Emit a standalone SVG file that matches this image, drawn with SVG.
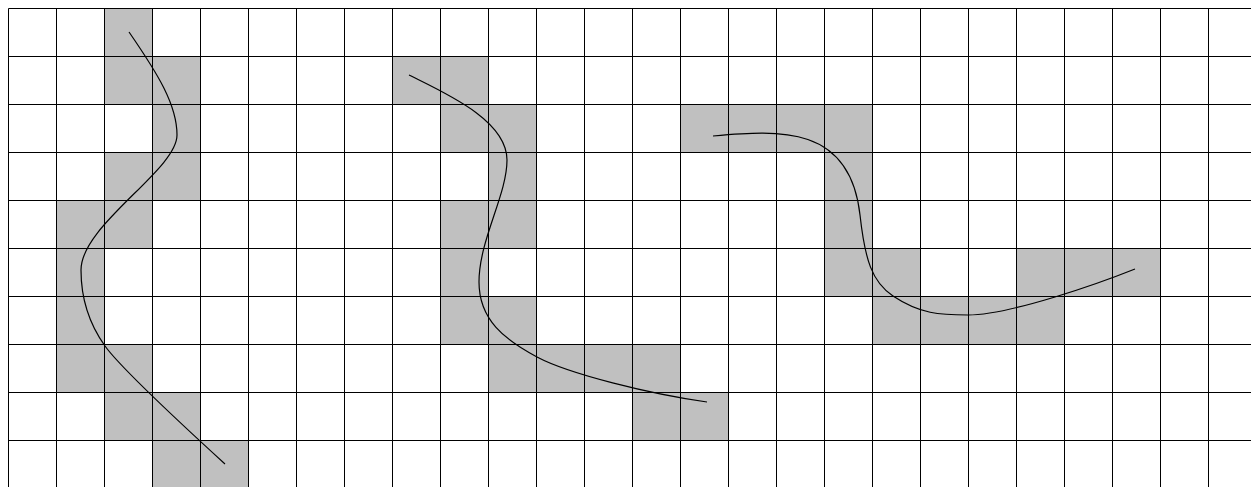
<svg xmlns="http://www.w3.org/2000/svg" width="1251" height="487" viewBox="0 0 1251 487">
<style>
.cell{fill:#c0c0c0;stroke:none}
.grid{stroke:#000;stroke-width:1;fill:none}
.curve{stroke:#000;stroke-width:1.2;fill:none}
</style>
<rect x="0" y="0" width="1251" height="487" fill="#fff"/>
<defs>
<rect id="c" class="cell" width="48" height="48"/>
</defs>
<g id="cells1">
<use href="#c" x="104.5" y="8.5"/>
<use href="#c" x="104.5" y="56.5"/><use href="#c" x="152.5" y="56.5"/>
<use href="#c" x="152.5" y="104.5"/>
<use href="#c" x="104.5" y="152.5"/><use href="#c" x="152.5" y="152.5"/>
<use href="#c" x="56.5" y="200.5"/><use href="#c" x="104.5" y="200.5"/>
<use href="#c" x="56.5" y="248.5"/>
<use href="#c" x="56.5" y="296.5"/>
<use href="#c" x="56.5" y="344.5"/><use href="#c" x="104.5" y="344.5"/>
<use href="#c" x="104.5" y="392.5"/><use href="#c" x="152.5" y="392.5"/>
<use href="#c" x="152.5" y="440.5"/><use href="#c" x="200.5" y="440.5"/>
</g>
<g id="cells2">
<use href="#c" x="392.5" y="56.5"/><use href="#c" x="440.5" y="56.5"/>
<use href="#c" x="440.5" y="104.5"/><use href="#c" x="488.5" y="104.5"/>
<use href="#c" x="488.5" y="152.5"/>
<use href="#c" x="440.5" y="200.5"/><use href="#c" x="488.5" y="200.5"/>
<use href="#c" x="440.5" y="248.5"/>
<use href="#c" x="440.5" y="296.5"/><use href="#c" x="488.5" y="296.5"/>
<use href="#c" x="488.5" y="344.5"/><use href="#c" x="536.5" y="344.5"/><use href="#c" x="584.5" y="344.5"/><use href="#c" x="632.5" y="344.5"/>
<use href="#c" x="632.5" y="392.5"/><use href="#c" x="680.5" y="392.5"/>
</g>
<g id="cells3">
<use href="#c" x="680.5" y="104.5"/><use href="#c" x="728.5" y="104.5"/><use href="#c" x="776.5" y="104.5"/><use href="#c" x="824.5" y="104.5"/>
<use href="#c" x="824.5" y="152.5"/>
<use href="#c" x="824.5" y="200.5"/>
<use href="#c" x="824.5" y="248.5"/><use href="#c" x="872.5" y="248.5"/>
<use href="#c" x="1016.5" y="248.5"/><use href="#c" x="1064.5" y="248.5"/><use href="#c" x="1112.5" y="248.5"/>
<use href="#c" x="872.5" y="296.5"/><use href="#c" x="920.5" y="296.5"/><use href="#c" x="968.5" y="296.5"/><use href="#c" x="1016.5" y="296.5"/>
</g>
<g id="grid" class="grid">
<path d="M8.5,8.5V487M56.5,8.5V487M104.5,8.5V487M152.5,8.5V487M200.5,8.5V487M248.5,8.5V487M296.5,8.5V487M344.5,8.5V487M392.5,8.5V487M440.5,8.5V487M488.5,8.5V487M536.5,8.5V487M584.5,8.5V487M632.5,8.5V487M680.5,8.5V487M728.5,8.5V487M776.5,8.5V487M824.5,8.5V487M872.5,8.5V487M920.5,8.5V487M968.5,8.5V487M1016.5,8.5V487M1064.5,8.5V487M1112.5,8.5V487M1160.5,8.5V487M1208.5,8.5V487"/>
<path d="M8.5,8.5H1251M8.5,56.5H1251M8.5,104.5H1251M8.5,152.5H1251M8.5,200.5H1251M8.5,248.5H1251M8.5,296.5H1251M8.5,344.5H1251M8.5,392.5H1251M8.5,440.5H1251"/>
</g>
<g id="connectors">
<path id="curve1" class="curve" d="M129,32 C158,74 177,105 177,135 C177,170 81,225 81,270 C81,300 90,325 105,346 C120,367 190,432 225,464"/>
<path id="curve2" class="curve" d="M409,75 C445,93 507,120 507,160 C507,195 479,240 479,282 C479,320 505,340 537,357 C569,374 650,394 707,402"/>
<path id="curve3" class="curve" d="M713,136 C780,130 850,125 860,215 C865,260 872,282 893,296 C920,314 940,315 968,315 C1010,315 1100,283 1135,269"/>
</g>
</svg>
